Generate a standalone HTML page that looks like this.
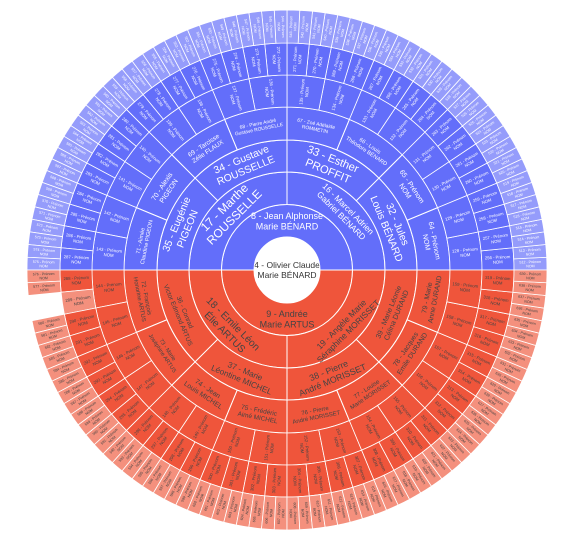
<!DOCTYPE html>
<html><head><meta charset="utf-8">
<style>
html,body{margin:0;padding:0;background:#fff;width:579px;height:539px;overflow:hidden}
svg{display:block}
text{font-family:"Liberation Sans",sans-serif}
</style></head>
<body>
<svg id="chart" width="579" height="539" viewBox="0 0 579 539"></svg>
<script>
// --- data ---
const rootLabel = ["4 - Olivier Claude", "Marie BÉNARD"];
const labelIds = [8,9,16,17,18,19,32,33,34,35,36,37,38,39,66,67,68,69,70,71,72,73,74,75,76,77,78,79];
const labelLine1 = ["8 - Jean Alphonse","9 - Andrée","16 - Marcel Adrien","17 - Marthe","18 - Emile Léon","19 - Angèle Marie",
 "32 - Jules","33 - Esther","34 - Gustave","35 - Eugénie","36 - Conrad","37 - Marie","38 - Pierre","39 - Marie Léonie",
 "66 - Louis","67 - Zoé Adélaide","68 - Pierre André","69 - Tarcisse","70 - Alexis","71 - Aimée","72 - François","73 - Marie",
 "74 - Jean","75 - Frédéric","76 - Pierre","77 - Louise","78 - Jacques","79 - Marie"];
const labelLine2 = ["Marie BÉNARD","Marie ARTUS","Gabriel BÉNARD","ROUSSELLE","Élie ARTUS","Séraphine MORISSET",
 "Louis BÉNARD","PROFFIT","ROUSSELLE","PIGEON","Victor Edmond ARTUS","Léontine MICHEL","André MORISSET","Célina DURAND",
 "Théodore BÉNARD","ROMMETIN","Gustave ROUSSELLE","Zélie FLAUX","PIGEON","Claudine PIGEON","Honorine ARTUS","Joséphine ARTUS",
 "Louis MICHEL","Aimé MICHEL","André MORISSET","Marie MORISSET","Emile DURAND","Anne DURAND"];
const missingIds = [578,579];
const maxGen = 7;

// --- geometry ---
const cx = 287, cy = 270;
const radii = [33,65.5,98,130,163,195,227,260];
const blue = "#636efa", red = "#ef553b", blueLeaf = "#959cfb", redLeaf = "#f4907d";
const maxFont = [9, 8.5, 13, 12, 7, 5, 4.2, 3.6];

const svg = document.getElementById('chart');
const NS = "http://www.w3.org/2000/svg";
function pt(r, deg){ const a = deg*Math.PI/180; return [cx + r*Math.cos(a), cy - r*Math.sin(a)]; }
function present(id){ if(id<8) return true; if(missingIds.includes(id)) return false; return present(Math.floor(id/2)); }

const hole = document.createElementNS(NS,'circle');
hole.setAttribute('cx',cx); hole.setAttribute('cy',cy); hole.setAttribute('r',radii[0]);
hole.setAttribute('fill','#fff');


svg.appendChild(hole);

function addText(lines, x, y, rot, size, color, name){
  const t = document.createElementNS(NS,'text');
  t.setAttribute('transform',`translate(${x.toFixed(1)},${y.toFixed(1)}) rotate(${rot.toFixed(1)})`);
  t.setAttribute('text-anchor','middle');
  t.setAttribute('font-size',size.toFixed(2));
  t.setAttribute('fill',color);
  
  
  const n = lines.length;
  lines.forEach((s,i)=>{
    const sp = document.createElementNS(NS,'tspan');
    sp.setAttribute('x',0);
    sp.setAttribute('y',((i-(n-1)/2)*size*1.15 + size*0.35).toFixed(1));
    sp.textContent = s;
    t.appendChild(sp);
  });
  svg.appendChild(t);
}
addText(rootLabel, cx, cy, 0, 8.5, "#333", 'root-label');

for(let g=1; g<=maxGen; g++){
  const count = Math.pow(2,g);
  const first = 4*count;
  const span = 360/count;
  for(let k=0;k<count;k++){
    const id = first+k;
    if(!present(id)) continue;
    const isBlue = k < count/2;
    const leaf = g===maxGen || (!present(2*id) && !present(2*id+1));
    const fill = isBlue ? (leaf?blueLeaf:blue) : (leaf?redLeaf:red);
    const a0 = k*span, a1 = (k+1)*span;
    const r0 = radii[g-1], r1 = radii[g];
    const p = document.createElementNS(NS,'path');
    const [x0,y0]=pt(r1,a0),[x1,y1]=pt(r1,a1),[x2,y2]=pt(r0,a1),[x3,y3]=pt(r0,a0);
    const large = span>180?1:0;
    p.setAttribute('d',`M${x0},${y0} A${r1},${r1} 0 ${large} 0 ${x1},${y1} L${x2},${y2} A${r0},${r0} 0 ${large} 1 ${x3},${y3} Z`);
    p.setAttribute('fill',fill);
    p.setAttribute('stroke','#fff');
    p.setAttribute('stroke-width', g>=5?0.8:1);
    
    
    svg.appendChild(p);
  }
}
for(let g=1; g<=maxGen; g++){
  const count = Math.pow(2,g);
  const first = 4*count;
  const span = 360/count;
  const r0 = radii[g-1], r1 = radii[g], w = r1-r0;
  for(let k=0;k<count;k++){
    const id = first+k;
    if(!present(id)) continue;
    const isBlue = k < count/2;
    const mid = (k+0.5)*span;
    const rm = (r0+r1)/2;
    const [x,y] = pt(g===1?49:rm, mid);
    const idx = labelIds.indexOf(id);
    const lines = idx>=0 ? [labelLine1[idx], labelLine2[idx]] : [id+" - Prénom", "NOM"];
    const chars = Math.max(lines[0].length, lines[1].length);
    let rot, size;
    if(g===1){ rot = 0; size = maxFont[0]; }
    else if(g<=4){
      rot = 90-mid; if(mid>180) rot += 180;
      const avail = 2*r0*Math.sin(Math.min(span,180)*Math.PI/360)*0.92;
      size = Math.min(maxFont[g], avail/(0.56*chars), w*0.85/2.3);
    } else {
      rot = -mid; if(mid>90 && mid<270) rot += 180;
      const arc = rm*span*Math.PI/180*0.85;
      size = Math.min(maxFont[g], w*0.9/(0.56*chars), arc/2.3);
    }
    addText(lines, x, y, rot, size, isBlue?"#fff":"#444", 'label-'+id);
  }
}
</script>
</body></html>
